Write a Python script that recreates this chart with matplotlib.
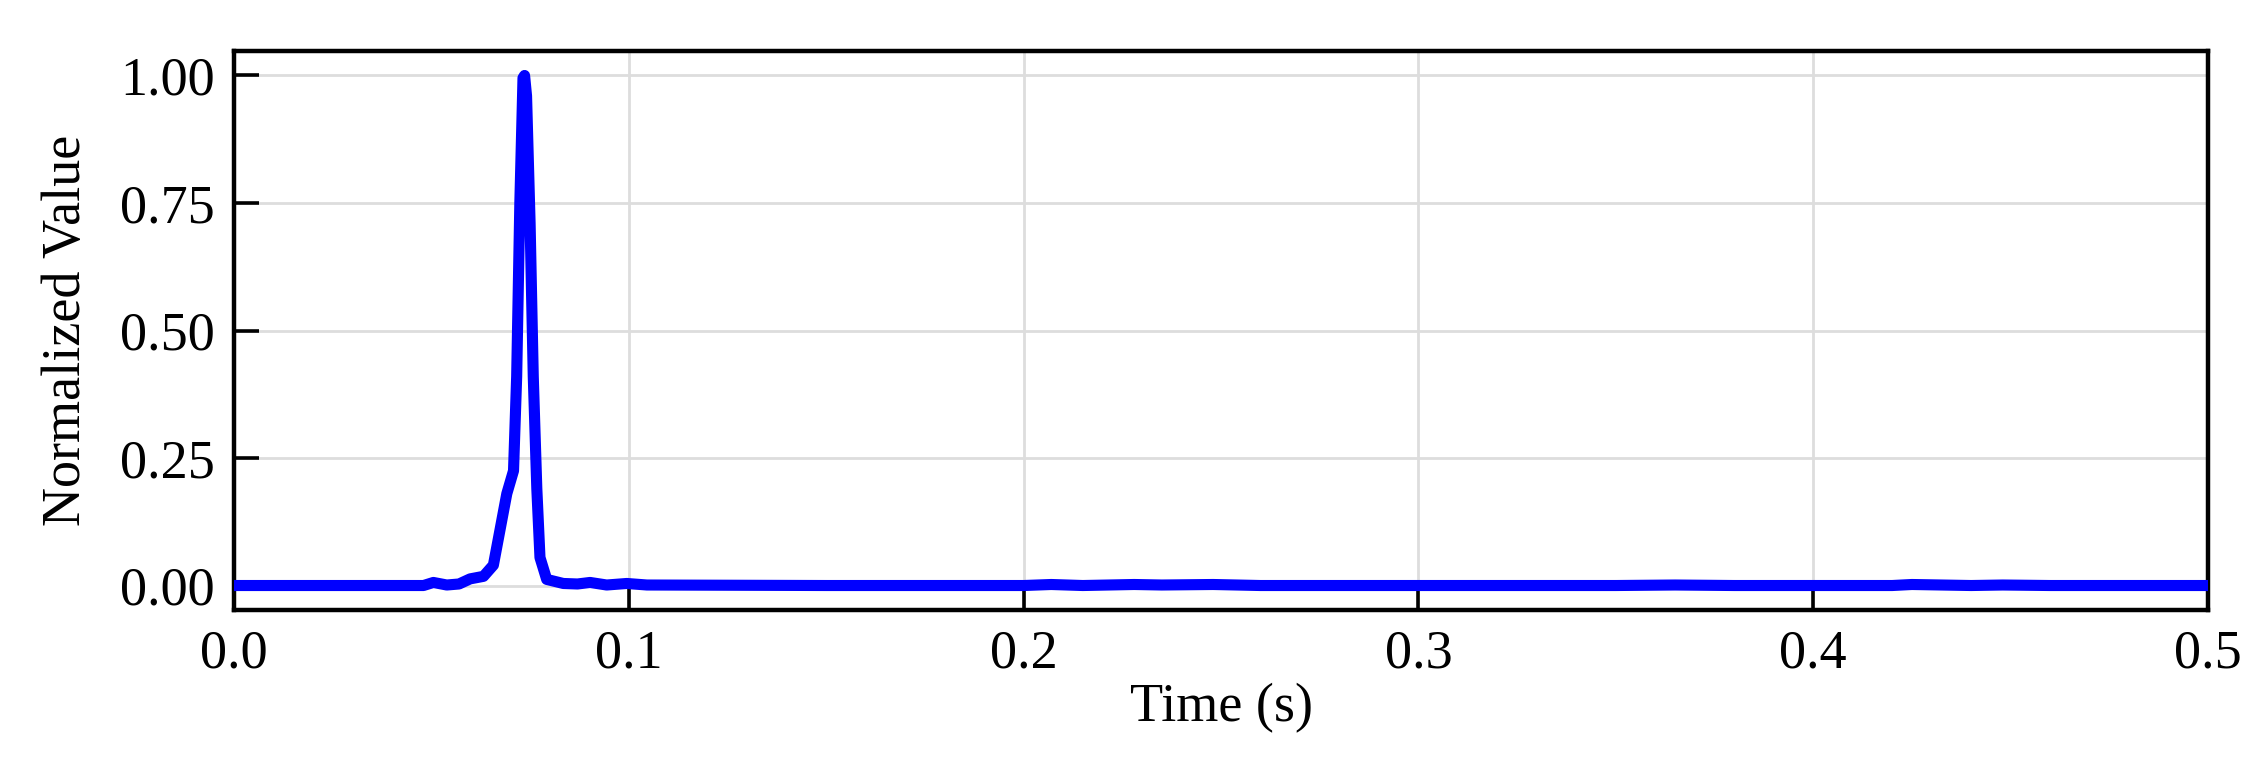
import matplotlib
matplotlib.use("Agg")
import matplotlib.pyplot as plt

# Data
time_s = [0.000, 0.030, 0.0370, 0.0480, 0.0505, 0.0539, 0.0570, 0.0598, 0.0632,
          0.0657, 0.0674, 0.0691, 0.0708, 0.0716, 0.0724, 0.0732, 0.0736, 0.0741,
          0.0750, 0.0758, 0.0767, 0.0775, 0.0792, 0.0834, 0.0870, 0.0902,
          0.0944, 0.0995, 0.1046, 0.150, 0.200, 0.207, 0.215, 0.228, 0.235,
          0.248, 0.260, 0.300, 0.350, 0.365, 0.380, 0.420, 0.425, 0.440,
          0.448, 0.460, 0.500]
norm_value = [0.000, 0.000, 0.000, 0.000, 0.006, 0.001, 0.003, 0.013, 0.018,
              0.040, 0.110, 0.180, 0.225, 0.410, 0.750, 0.995, 1.000, 0.960,
              0.710, 0.410, 0.190, 0.055, 0.012, 0.004, 0.003, 0.006,
              0.001, 0.004, 0.001, 0.000, 0.000, 0.002, 0.000, 0.002, 0.001,
              0.002, 0.000, 0.000, 0.000, 0.001, 0.000, 0.000, 0.002, 0.000,
              0.001, 0.000, 0.000]

x_ticks = [0.0, 0.1, 0.2, 0.3, 0.4, 0.5]
y_ticks = [0.00, 0.25, 0.50, 0.75, 1.00]

plt.rcParams['font.family'] = ['Liberation Serif', 'DejaVu Serif']
plt.rcParams['mathtext.fontset'] = 'stix'

fig = plt.figure(figsize=(11.33, 3.8), dpi=200)
ax = fig.add_axes([234/2266, 1 - 610/760, (2208-234)/2266, (610-51)/760])

ax.plot(time_s, norm_value, color='#0000ff', linewidth=4.0, solid_joinstyle='round',
        solid_capstyle='round', zorder=3)

ax.set_xlim(0, 0.5)
ax.set_ylim(-0.048, 1.048)
ax.set_xticks(x_ticks)
ax.set_xticklabels([f"{v:.1f}" for v in x_ticks])
ax.set_yticks(y_ticks)
ax.set_yticklabels([f"{v:.2f}" for v in y_ticks])

ax.grid(True, color='#dddddd', linewidth=1.0, zorder=0)
ax.tick_params(axis='both', direction='in', length=9, width=1.3, labelsize=19.5,
               pad=7, top=False, right=False)
for s in ax.spines.values():
    s.set_linewidth(1.6)
    s.set_color('black')

ax.set_xlabel('Time (s)', fontsize=19.5, labelpad=1)
ax.set_ylabel('Normalized Value', fontsize=19.5, labelpad=10)

fig.savefig('out.png', dpi=200, facecolor='white')
